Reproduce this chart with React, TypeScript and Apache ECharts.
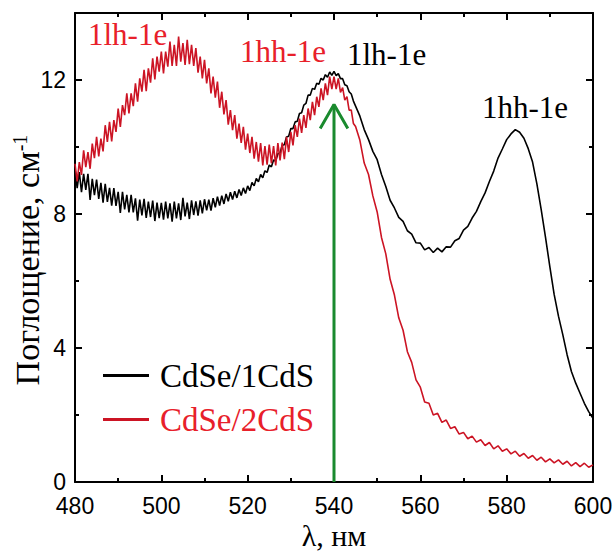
import React, { useEffect, useRef } from "react";
import * as echarts from "echarts";

const wavelengths = [
  480, 480.5, 481, 481.5, 482, 482.5, 483, 483.5, 484, 484.5,
  485, 485.5, 486, 486.5, 487, 487.5, 488, 488.5, 489, 489.5,
  490, 490.5, 491, 491.5, 492, 492.5, 493, 493.5, 494, 494.5,
  495, 495.5, 496, 496.5, 497, 497.5, 498, 498.5, 499, 499.5,
  500, 500.5, 501, 501.5, 502, 502.5, 503, 503.5, 504, 504.5,
  505, 505.5, 506, 506.5, 507, 507.5, 508, 508.5, 509, 509.5,
  510, 510.5, 511, 511.5, 512, 512.5, 513, 513.5, 514, 514.5,
  515, 515.5, 516, 516.5, 517, 517.5, 518, 518.5, 519, 519.5,
  520, 520.5, 521, 521.5, 522, 522.5, 523, 523.5, 524, 524.5,
  525, 525.5, 526, 526.5, 527, 527.5, 528, 528.5, 529, 529.5,
  530, 530.5, 531, 531.5, 532, 532.5, 533, 533.5, 534, 534.5,
  535, 535.5, 536, 536.5, 537, 537.5, 538, 538.5, 539, 539.5,
  540, 540.5, 541, 541.5, 542, 542.5, 543, 543.5, 544, 544.5,
  545,
  546, 547, 548, 549, 550, 551, 552, 553, 554, 555,
  556, 557, 558, 559, 560, 561, 562, 563, 564, 565,
  566, 567, 568, 569, 570, 571, 572, 573, 574, 575,
  576, 577, 578, 579, 580, 581, 582, 583, 584, 585,
  586, 587, 588, 589, 590, 591, 592, 593, 594, 595,
  596, 597, 598, 599, 600,
];

const cdse1cds = [
  9.35, 8.77, 9.25, 8.65, 9.2, 8.72, 9.2, 8.42, 9.05, 8.56,
  9.03, 8.45, 8.93, 8.34, 8.9, 8.36, 8.78, 8.25, 8.77, 8.24,
  8.66, 8.03, 8.66, 8.14, 8.57, 8.05, 8.57, 8.05, 8.47, 7.8,
  8.43, 7.96, 8.45, 7.88, 8.37, 7.91, 8.4, 7.79, 8.34, 7.88,
  8.33, 7.83, 8.37, 7.87, 8.32, 7.77, 8.37, 7.87, 8.32, 7.82,
  8.48, 7.93, 8.34, 7.85, 8.41, 7.97, 8.38, 7.95, 8.41, 8.02,
  8.44, 8.11, 8.43, 8.1, 8.47, 8.2, 8.52, 8.25, 8.55, 8.3,
  8.6, 8.38, 8.65, 8.43, 8.68, 8.48, 8.73, 8.55, 8.78, 8.61,
  8.84, 8.7, 8.94, 8.84, 9.06, 8.96, 9.18, 9.08, 9.29, 9.24,
  9.46, 9.41, 9.61, 9.59, 9.8, 9.82, 10.05, 10.07, 10.3, 10.32,
  10.55, 10.55, 10.75, 10.77, 11.0, 11.02, 11.25, 11.3, 11.55, 11.55,
  11.75, 11.72, 11.9, 11.87, 12.05, 12.0, 12.16, 12.08, 12.24, 12.14,
  12.26, 12.13, 12.19, 12.04, 12.04, 11.86, 11.83, 11.65, 11.58, 11.37,
  11.22,
  10.92, 10.52, 10.22, 9.87, 9.62, 9.18, 8.82, 8.41, 8.18, 7.9,
  7.78, 7.5, 7.4, 7.14, 7.13, 6.93, 7.0, 6.85, 6.98, 6.87,
  7.02, 7.01, 7.2, 7.27, 7.52, 7.63, 7.88, 8.08, 8.37, 8.63,
  8.97, 9.28, 9.67, 9.94, 10.22, 10.39, 10.52, 10.44, 10.26, 9.95,
  9.55, 8.9, 8.13, 7.3, 6.43, 5.6, 4.95, 4.4, 3.8, 3.3,
  2.95, 2.65, 2.35, 2.1, 1.9,
];

const cdse2cds = [
  9.5, 8.97, 9.55, 9.17, 9.9, 9.4, 9.85, 9.35, 10.1, 9.67,
  10.3, 9.72, 10.25, 9.87, 10.65, 10.15, 10.75, 10.17, 10.8, 10.45,
  11.15, 10.6, 11.25, 10.95, 11.6, 11.0, 11.6, 11.22, 11.9, 11.35,
  12.05, 11.65, 12.3, 11.67, 12.35, 11.92, 12.65, 12.02, 12.7, 12.25,
  12.85, 12.2, 12.85, 12.4, 13.15, 12.42, 13.05, 12.42, 13.3, 12.55,
  13.1, 12.45, 13.2, 12.47, 13.05, 12.42, 12.95, 12.22, 12.7, 12.05,
  12.6, 11.9, 12.35, 11.6, 12.1, 11.47, 11.95, 11.17, 11.65, 10.97,
  11.4, 10.67, 11.1, 10.5, 10.95, 10.25, 10.7, 10.12, 10.6, 9.92,
  10.4, 9.82, 10.3, 9.65, 10.15, 9.56, 10.12, 9.45, 10.03, 9.47,
  10.07, 9.52, 10.03, 9.45, 10.12, 9.6, 10.13, 9.64, 10.3, 9.85,
  10.45, 10.05, 10.65, 10.3, 10.85, 10.42, 10.95, 10.57, 11.15, 10.8,
  11.35, 10.95, 11.5, 11.2, 11.75, 11.4, 11.9, 11.55, 12.1, 11.73,
  12.1, 11.73, 12.05, 11.63, 11.77, 11.4, 11.5, 11.1, 11.1, 10.7,
  10.61,
  10.2, 9.52, 9.18, 8.54, 8.06, 7.3, 6.81, 6.05, 5.58, 4.9,
  4.53, 3.89, 3.57, 3.05, 2.83, 2.39, 2.35, 2.0, 2.05, 1.78,
  1.85, 1.6, 1.65, 1.43, 1.48, 1.29, 1.37, 1.19, 1.26, 1.09,
  1.18, 0.99, 1.08, 0.92, 0.99, 0.84, 0.92, 0.77, 0.85, 0.71,
  0.79, 0.65, 0.74, 0.6, 0.69, 0.57, 0.66, 0.53, 0.62, 0.48,
  0.58, 0.46, 0.56, 0.44, 0.51,
];

const seriesNames = ["CdSe/1CdS", "CdSe/2CdS"];
const yMajorTicks = [0, 4, 8, 12];
const yMinorTicks = [2, 6, 10];
const arrowShaft = [
  [540, 0],
  [540, 11.27],
];
const arrowHead = [
  [536.8, 10.55],
  [540, 11.27],
  [543.2, 10.55],
];

const SERIF = "'Liberation Serif', 'Times New Roman', serif";
const SANS = "'Liberation Sans', Arial, sans-serif";
const RED_LINE = "#cc1424";
const RED_TEXT = "#e8202a";
const GREEN = "#1a8a2e";

export default function App() {
  const ref = useRef<HTMLDivElement>(null);

  useEffect(() => {
    const chart = echarts.init(ref.current!, null, { renderer: "svg" });

    const tickLine = { color: "#000", width: 2 };
    const xAxisBase = (pos: "bottom" | "top", labels: boolean) => ({
      type: "value",
      position: pos,
      min: 480,
      max: 600,
      interval: 20,
      axisLine: { show: true, onZero: false, lineStyle: tickLine },
      axisTick: { show: true, inside: true, length: 7, lineStyle: tickLine },
      minorTick: { show: true, splitNumber: 2, length: 4, lineStyle: tickLine },
      axisLabel: {
        show: labels,
        color: "#000",
        fontSize: 23,
        fontFamily: SANS,
        margin: 12,
      },
      splitLine: { show: false },
      minorSplitLine: { show: false },
    });
    const yAxisBase = (
      pos: "left" | "right",
      ticks: number[],
      len: number,
      labels: boolean,
      line: boolean
    ) => ({
      type: "value",
      position: pos,
      min: 0,
      max: 14,
      interval: 2,
      axisLine: { show: line, onZero: false, lineStyle: tickLine },
      axisTick: {
        show: true,
        inside: true,
        length: len,
        lineStyle: tickLine,
        customValues: ticks,
      },
      axisLabel: {
        show: labels,
        color: "#000",
        fontSize: 23,
        fontFamily: SANS,
        margin: 9,
        customValues: yMajorTicks,
      },
      splitLine: { show: false },
    });

    const annotations = [
      { text: "1lh-1e", x: 88, y: 34.5, color: RED_TEXT },
      { text: "1hh-1e", x: 240, y: 51.5, color: RED_TEXT },
      { text: "1lh-1e", x: 347, y: 54.5, color: "#000" },
      { text: "1hh-1e", x: 482, y: 107.5, color: "#000" },
    ];

    chart.setOption({
      animation: false,
      backgroundColor: "#fff",
      grid: { left: 75, right: 23, top: 13, bottom: 69, containLabel: false, outerBoundsMode: "none" },
      xAxis: [xAxisBase("bottom", true), xAxisBase("top", false)],
      yAxis: [
        yAxisBase("left", yMajorTicks, 7, true, true),
        yAxisBase("left", yMinorTicks, 4, false, false),
        yAxisBase("right", yMajorTicks, 7, false, true),
        yAxisBase("right", yMinorTicks, 4, false, false),
      ],
      legend: {
        data: [
          { name: seriesNames[0], textStyle: { color: "#000" } },
          { name: seriesNames[1], textStyle: { color: RED_TEXT } },
        ],
        orient: "vertical",
        left: 98,
        top: 354,
        itemWidth: 46,
        itemHeight: 3,
        itemGap: 11,
        icon: "rect",
        selectedMode: false,
        textStyle: { fontFamily: SERIF, fontSize: 33, padding: [0, 0, 0, 6] },
      },
      series: [
        {
          type: "line",
          name: seriesNames[0],
          data: wavelengths.map((w, i) => [w, cdse1cds[i]]),
          showSymbol: false,
          symbol: "none",
          lineStyle: { color: "#000", width: 1.6 },
          itemStyle: { color: "#000" },
          z: 2,
        },
        {
          type: "line",
          name: seriesNames[1],
          data: wavelengths.map((w, i) => [w, cdse2cds[i]]),
          showSymbol: false,
          symbol: "none",
          lineStyle: { color: RED_LINE, width: 1.6 },
          itemStyle: { color: RED_LINE },
          z: 3,
        },
        {
          type: "line",
          name: "arrow",
          data: arrowShaft,
          showSymbol: false,
          symbol: "none",
          silent: true,
          lineStyle: { color: GREEN, width: 3 },
          itemStyle: { color: GREEN },
          z: 4,
        },
        {
          type: "line",
          name: "arrowHead",
          data: arrowHead,
          showSymbol: false,
          symbol: "none",
          silent: true,
          lineStyle: { color: GREEN, width: 3 },
          itemStyle: { color: GREEN },
          z: 4,
        },
      ],
      graphic: [
        ...annotations.map((a) => ({
          type: "text",
          x: a.x,
          y: a.y,
          style: {
            text: a.text,
            fill: a.color,
            fontFamily: SERIF,
            fontSize: 31,
            align: "left",
            verticalAlign: "middle",
          },
        })),
        {
          type: "text",
          x: 27,
          y: 260,
          rotation: Math.PI / 2,
          style: {
            text: "{a|Поглощение, см}{s|-1}",
            align: "center",
            verticalAlign: "middle",
            fill: "#000",
            rich: {
              a: { fontFamily: SERIF, fontSize: 34, fill: "#000" },
              s: { fontFamily: SERIF, fontSize: 20, fill: "#000", verticalAlign: "top" },
            },
          },
        },
        {
          type: "text",
          x: 334,
          y: 535,
          style: {
            text: "λ, нм",
            fill: "#000",
            fontFamily: SERIF,
            fontSize: 30,
            align: "center",
            verticalAlign: "middle",
          },
        },
      ],
    });

    return () => chart.dispose();
  }, []);

  return (
    <div
      ref={ref}
      style={{ position: "fixed", left: 0, top: 0, width: 616, height: 551 }}
    />
  );
}
